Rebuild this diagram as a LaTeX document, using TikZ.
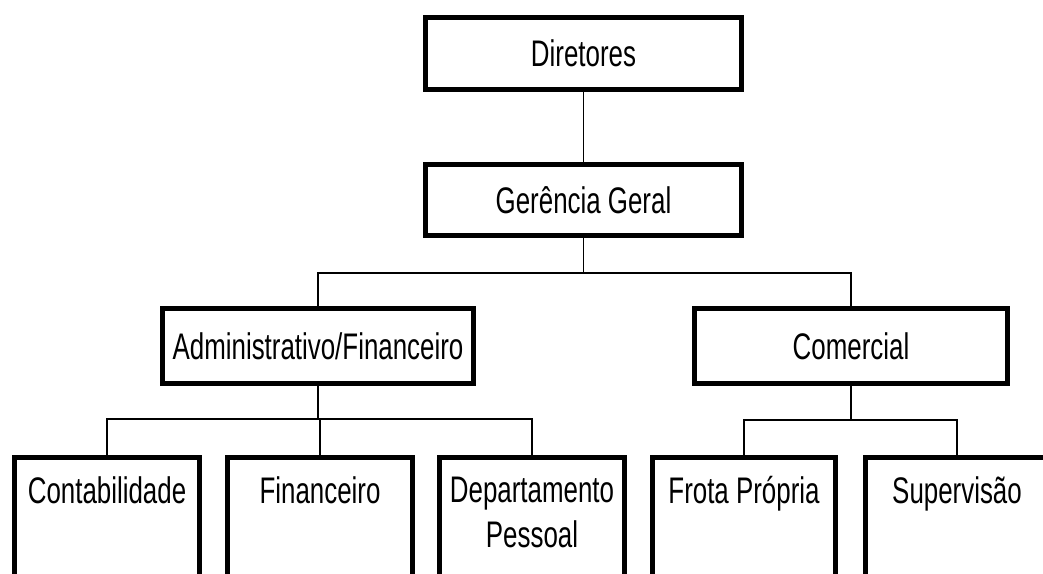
\documentclass[tikz,border=0pt]{standalone}
\usepackage{fontspec}
\setmainfont{Liberation Sans}[FakeStretch=0.7]
\usetikzlibrary{calc}
\tikzset{
  box/.style={draw=black, line width=5pt, fill=white, inner sep=0pt, text height=26pt, text depth=0pt},
  conn/.style={draw=black, line width=1.6pt},
  lbl/.style={inner sep=0pt, anchor=base, align=center}
}
\begin{document}
\begin{tikzpicture}[x=1pt, y=-1pt, font=\fontsize{37}{45}\selectfont]
\useasboundingbox (0,0) rectangle (1043,573);
\clip (0,0) rectangle (1043,573);
\fill[white] (0,0) rectangle (1043,573);
% top level
\node[box, minimum width=316, minimum height=72] (dir) at (583.5,53.5) {Diretores};
\node[box, minimum width=316, minimum height=71] (ger) at (583.5,200) {Gerência Geral};
\node[box, minimum width=311, minimum height=75] (adm) at (318,346) {Administrativo/Financeiro};
\node[box, minimum width=313, minimum height=75] (com) at (851,346) {Comercial};
% bottom boxes (cut off by the page bottom)
\node[box, minimum width=185, minimum height=180, anchor=north] (cont) at (107,454.5) {};
\node[box, minimum width=185, minimum height=180, anchor=north] (fin) at (320,454.5) {};
\node[box, minimum width=185, minimum height=180, anchor=north] (dep) at (532,454.5) {};
\node[box, minimum width=183, minimum height=180, anchor=north] (fro) at (744,454.5) {};
\node[box, minimum width=183, minimum height=180, anchor=north] (sup) at (957,454.5) {};
\node[lbl] (contT) at ($(cont.north)+(0,48.5)$) {Contabilidade};
\node[lbl] (finT) at ($(fin.north)+(0,48.5)$) {Financeiro};
\node[inner sep=0pt, anchor=north, align=center] (depT) at ($(dep.north)+(0,22)$) {Departamento\\Pessoal};
\node[lbl] (froT) at ($(fro.north)+(0,48.5)$) {Frota Própria};
\node[lbl] (supT) at ($(sup.north)+(0,48.5)$) {Supervisão};
% connectors
\draw[conn] (dir.south) -- (ger.north);
\coordinate (h1) at ($(ger.south)+(0,35)$);
\draw[conn] (ger.south) -- (h1);
\draw[conn] (adm.north) |- (h1) -| (com.north);
\coordinate (h2) at ($(adm.south)+(0,33)$);
\draw[conn] (adm.south) -- (h2);
\draw[conn] (cont.north) |- (h2) -| (dep.north);
\draw[conn] (fin.north) -- (fin.north |- h2);
\coordinate (h3) at ($(com.south)+(0,34)$);
\draw[conn] (com.south) -- (h3);
\draw[conn] (fro.north) |- (h3) -| (sup.north);
\end{tikzpicture}
\end{document}
